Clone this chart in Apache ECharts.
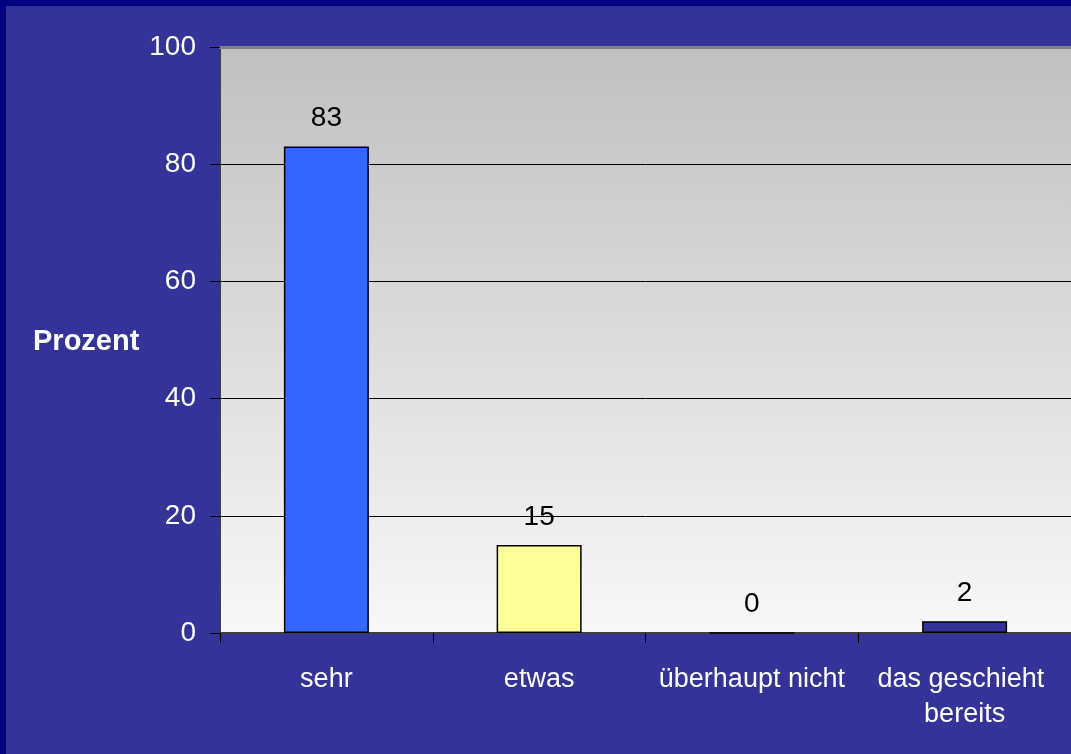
<!DOCTYPE html>
<html>
<head>
<meta charset="utf-8">
<script src="https://cdn.jsdelivr.net/npm/echarts@6/dist/echarts.min.js"></script>
<style>
  html, body { margin: 0; padding: 0; background: #333399; }
  #chart { width: 1071px; height: 754px; }
</style>
</head>
<body>
<div id="chart"></div>
<script>
const categories = ["sehr", "etwas", "überhaupt nicht", "das geschieht bereits"];
const values = [83, 15, 0, 2];
const barColors = ["#3366FF", "#FFFF99", "#333399", "#333399"];
const yTicks = [0, 20, 40, 60, 80, 100];

const myChart = echarts.init(document.getElementById("chart"));

const option = {
  backgroundColor: "#333399",
  animation: false,
  textStyle: { fontFamily: "Liberation Sans, Arial, sans-serif" },
  title: {
    text: "Prozent",
    left: 28,
    top: 322,
    textStyle: { color: "#fff", fontSize: 29, fontWeight: "bold" },
  },
  graphic: [
    // dunkler Rahmen oben / links
    { type: "rect", left: 0, top: 0, shape: { width: 1071, height: 6 }, style: { fill: "#000080" } },
    { type: "rect", left: 0, top: 0, shape: { width: 6, height: 754 }, style: { fill: "#000080" } },
  ],
  grid: {
    left: 220,
    right: 0,
    top: 47,
    bottom: 121,
    outerBoundsMode: "none",
    containLabel: false,
    show: true,
    borderWidth: 0,
    backgroundColor: {
      type: "linear", x: 0, y: 0, x2: 0, y2: 1,
      colorStops: [
        { offset: 0, color: "#c0c0c0" },
        { offset: 1, color: "#f8f8f8" },
      ],
    },
  },
  xAxis: [
    {
      type: "category",
      data: categories,
      axisLine: { lineStyle: { color: "#404040", width: 2 } },
      axisTick: { show: true, length: 10, lineStyle: { color: "#000", width: 1 } },
      axisLabel: {
        color: "#fff",
        fontSize: 27,
        margin: 29,
        lineHeight: 35,
        width: 210,
        overflow: "break",
        interval: 0,
      },
    },
    {
      type: "category",
      position: "top",
      data: categories,
      axisLine: { lineStyle: { color: "#808080", width: 3 } },
      axisTick: { show: false },
      axisLabel: { show: false },
    },
  ],
  yAxis: {
    type: "value",
    min: yTicks[0],
    max: yTicks[yTicks.length - 1],
    interval: 20,
    axisLine: { show: true, lineStyle: { color: "#404040", width: 2 } },
    axisTick: { show: true, length: 10, lineStyle: { color: "#000" } },
    axisLabel: { color: "#fff", fontSize: 28, margin: 24 },
    splitLine: { show: true, lineStyle: { color: "#000", width: 1 } },
  },
  series: [
    {
      type: "bar",
      barWidth: 85,
      data: values.map((v, i) => ({
        value: v,
        itemStyle: { color: barColors[i], borderColor: "#000", borderWidth: 1.5 },
      })),
      label: {
        show: true,
        position: "top",
        distance: 14,
        color: "#000",
        fontSize: 28,
      },
    },
  ],
};

myChart.setOption(option);
window.addEventListener("resize", () => {
  myChart.resize();
});
</script>
</body>
</html>
